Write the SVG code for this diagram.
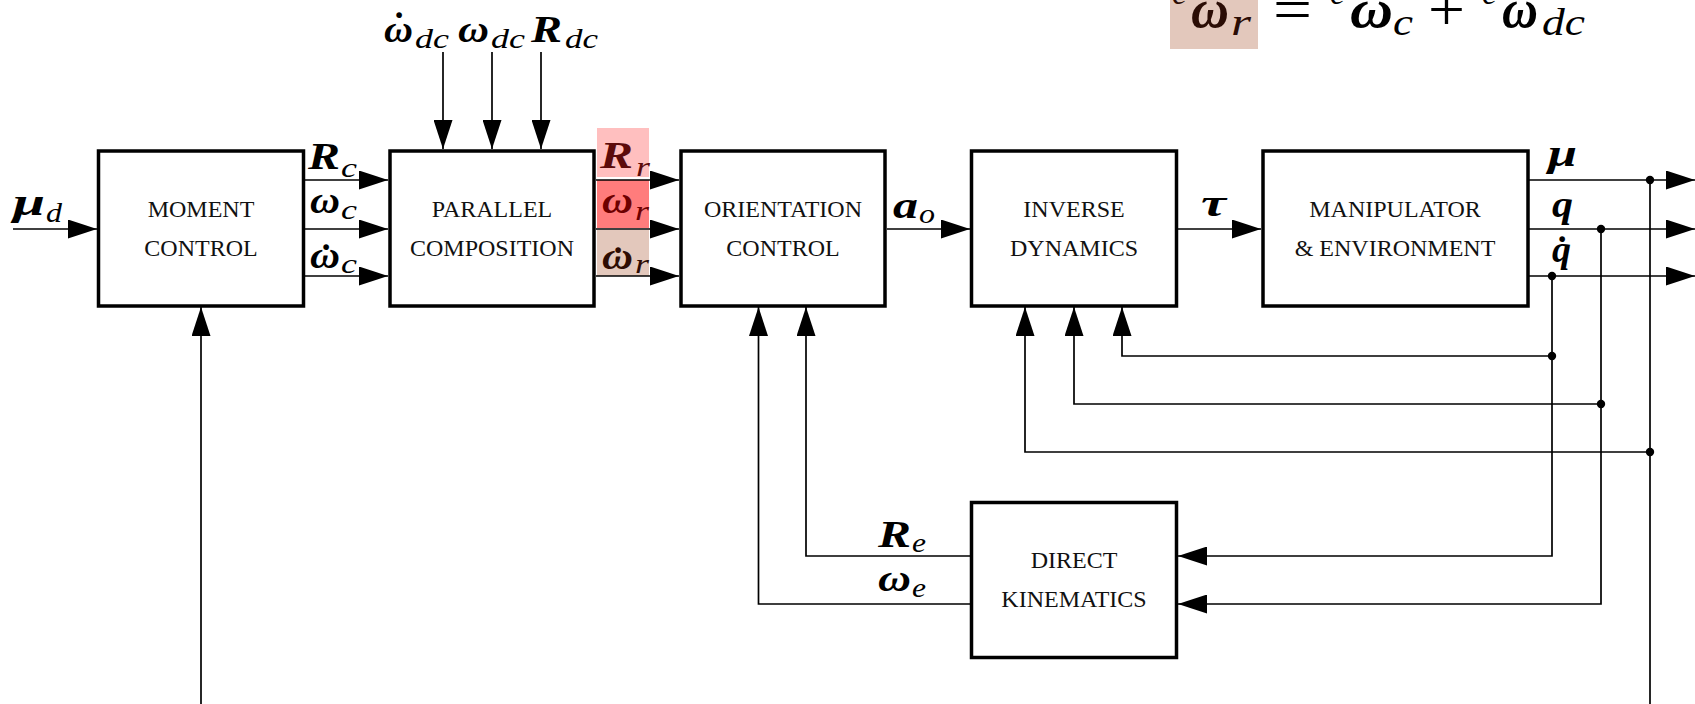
<svg xmlns="http://www.w3.org/2000/svg" width="1695" height="704" viewBox="0 0 1695 704">
<style>
.box{fill:#fff;stroke:#000;stroke-width:3.5}
.bt{font-family:"Liberation Serif",serif;font-size:24px;text-anchor:middle;fill:#111}
.m{font-family:"Liberation Serif",serif;font-style:italic;font-weight:bold;font-size:38px;fill:#000}
.s{font-family:"Liberation Serif",serif;font-style:italic;font-size:27px;fill:#000}
.d{font-family:"Liberation Serif",serif;font-weight:bold;font-size:38px;text-anchor:middle;fill:#000}
.w{fill:none;stroke:#000;stroke-width:1.7}
.a{marker-end:url(#ah)}
.f{font-family:"Liberation Serif",serif;font-size:62px;fill:#000}
</style>
<defs>
<marker id="ah" markerUnits="userSpaceOnUse" markerWidth="29" markerHeight="19" refX="29" refY="9.5" orient="auto">
<path d="M0,0 L29,9.5 L0,19 z" fill="#000"/>
</marker>
</defs>
<rect width="1695" height="704" fill="#fff"/>

<g id="highlights">
<rect x="597" y="128" width="52" height="49" fill="#FFBFBF"/>
<rect x="597" y="180" width="52" height="48" fill="#FF7C7C"/>
<rect x="597" y="230" width="52" height="46" fill="#E3C8BC"/>
<rect x="1170" y="0" width="88" height="49" fill="#E3C8BC"/>
</g>

<g id="connectors">
<path class="w a" d="M13,229 H97"/>
<path class="w a" d="M304,180 H388"/>
<path class="w a" d="M304,229 H388"/>
<path class="w a" d="M304,276 H388"/>
<path class="w a" d="M443,52 V149"/>
<path class="w a" d="M492,52 V149"/>
<path class="w a" d="M541,52 V149"/>
<path class="w a" d="M596,180 H679"/>
<path class="w a" d="M596,229 H679"/>
<path class="w a" d="M596,276 H679"/>
<path class="w a" d="M887,229 H970"/>
<path class="w a" d="M1178,229 H1261"/>
<path class="w a" d="M1529,180 H1695"/>
<path class="w a" d="M1529,229 H1695"/>
<path class="w a" d="M1529,276 H1695"/>
<path class="w a" d="M1552,276 V556 H1178"/>
<path class="w a" d="M1601,229 V604 H1178"/>
<path class="w" d="M1650,180 V704"/>
<path class="w a" d="M1552,356 H1122 V307"/>
<path class="w a" d="M1601,404 H1074 V307"/>
<path class="w a" d="M1650,452 H1025 V307"/>
<path class="w a" d="M970,556 H806 V307"/>
<path class="w a" d="M970,604 H758.5 V307"/>
<path class="w a" d="M201,704 V307"/>
<circle cx="1650" cy="180" r="4.2"/>
<circle cx="1601" cy="229" r="4.2"/>
<circle cx="1552" cy="276" r="4.2"/>
<circle cx="1552" cy="356" r="4.2"/>
<circle cx="1601" cy="404" r="4.2"/>
<circle cx="1650" cy="452" r="4.2"/>
</g>

<g id="moment-control">
<rect class="box" x="98.5" y="151" width="205" height="155"/>
<text class="bt" x="201" y="217">MOMENT</text>
<text class="bt" x="201" y="256">CONTROL</text>
</g>
<g id="parallel-composition">
<rect class="box" x="390" y="151" width="204" height="155"/>
<text class="bt" x="492" y="217">PARALLEL</text>
<text class="bt" x="492" y="256">COMPOSITION</text>
</g>
<g id="orientation-control">
<rect class="box" x="681" y="151" width="204" height="155"/>
<text class="bt" x="783" y="217">ORIENTATION</text>
<text class="bt" x="783" y="256">CONTROL</text>
</g>
<g id="inverse-dynamics">
<rect class="box" x="971.5" y="151" width="205" height="155"/>
<text class="bt" x="1074" y="217">INVERSE</text>
<text class="bt" x="1074" y="256">DYNAMICS</text>
</g>
<g id="manipulator-environment">
<rect class="box" x="1263" y="151" width="265" height="155"/>
<text class="bt" x="1395" y="217">MANIPULATOR</text>
<text class="bt" x="1395" y="256">&amp; ENVIRONMENT</text>
</g>
<g id="direct-kinematics">
<rect class="box" x="971.5" y="502.5" width="205" height="155"/>
<text class="bt" x="1074" y="568">DIRECT</text>
<text class="bt" x="1074" y="607">KINEMATICS</text>
</g>

<g id="labels">
<text class="m" x="13" y="215" textLength="32" lengthAdjust="spacingAndGlyphs">μ</text><text class="s" x="46" y="222" textLength="16" lengthAdjust="spacingAndGlyphs">d</text>
<text class="m" x="308" y="169" textLength="32" lengthAdjust="spacingAndGlyphs">R</text><text class="s" x="341" y="177" textLength="16" lengthAdjust="spacingAndGlyphs">c</text>
<text class="m" x="310" y="213" textLength="30" lengthAdjust="spacingAndGlyphs">ω</text><text class="s" x="341" y="219" textLength="16" lengthAdjust="spacingAndGlyphs">c</text>
<text class="m" x="310" y="268" textLength="30" lengthAdjust="spacingAndGlyphs">ω</text><text class="d" x="326" y="271">˙</text><text class="s" x="341" y="273" textLength="16" lengthAdjust="spacingAndGlyphs">c</text>
<text class="m" x="384" y="42" textLength="29" lengthAdjust="spacingAndGlyphs">ω</text><text class="d" x="399" y="39">˙</text><text class="s" x="415" y="48" textLength="34" lengthAdjust="spacingAndGlyphs">dc</text>
<text class="m" x="458" y="42" textLength="31" lengthAdjust="spacingAndGlyphs">ω</text><text class="s" x="491" y="48" textLength="34" lengthAdjust="spacingAndGlyphs">dc</text>
<text class="m" x="531" y="42" textLength="31" lengthAdjust="spacingAndGlyphs">R</text><text class="s" x="565" y="48" textLength="33" lengthAdjust="spacingAndGlyphs">dc</text>
<text class="m" x="600" y="168" style="fill:#5c0b0b" textLength="33" lengthAdjust="spacingAndGlyphs">R</text><text class="s" x="636" y="176" style="fill:#5c0b0b" textLength="14" lengthAdjust="spacingAndGlyphs">r</text>
<text class="m" x="602" y="213" style="fill:#6e0000" textLength="31" lengthAdjust="spacingAndGlyphs">ω</text><text class="s" x="635" y="220" style="fill:#6e0000" textLength="14" lengthAdjust="spacingAndGlyphs">r</text>
<text class="m" x="602" y="269" style="fill:#2e0c03" textLength="31" lengthAdjust="spacingAndGlyphs">ω</text><text class="d" x="618" y="274" style="fill:#2e0c03">˙</text><text class="s" x="635" y="273" style="fill:#2e0c03" textLength="14" lengthAdjust="spacingAndGlyphs">r</text>
<text class="m" x="893" y="218" textLength="25" lengthAdjust="spacingAndGlyphs">a</text><text class="s" x="919" y="223" textLength="16" lengthAdjust="spacingAndGlyphs">o</text>
<text class="m" x="1201" y="216" textLength="25" lengthAdjust="spacingAndGlyphs">τ</text>
<text class="m" x="1548" y="166" textLength="29" lengthAdjust="spacingAndGlyphs">μ</text>
<text class="m" x="1552" y="217" textLength="21" lengthAdjust="spacingAndGlyphs">q</text>
<text class="m" x="1552" y="262">q̇</text>
<text class="m" x="878" y="547" textLength="33" lengthAdjust="spacingAndGlyphs">R</text><text class="s" x="912" y="552" textLength="14" lengthAdjust="spacingAndGlyphs">e</text>
<text class="m" x="878" y="591" textLength="33" lengthAdjust="spacingAndGlyphs">ω</text><text class="s" x="912" y="597" textLength="14" lengthAdjust="spacingAndGlyphs">e</text>
</g>

<g id="formula">
<text class="s" x="1172" y="4" style="font-size:34px;fill:#2b0d05">c</text>
<text class="m" x="1191" y="27" style="font-size:54px;fill:#2b0d05" textLength="38" lengthAdjust="spacingAndGlyphs">ω</text>
<text class="s" x="1231" y="35" style="font-size:38px;fill:#2b0d05" textLength="20" lengthAdjust="spacingAndGlyphs">r</text>
<text class="f" x="1273" y="30" textLength="39" lengthAdjust="spacingAndGlyphs">=</text>
<text class="s" x="1330" y="4" style="font-size:34px">c</text>
<text class="m" x="1350" y="27" style="font-size:54px" textLength="43" lengthAdjust="spacingAndGlyphs">ω</text>
<text class="s" x="1393" y="35" style="font-size:38px" textLength="20" lengthAdjust="spacingAndGlyphs">c</text>
<text class="f" x="1428" y="30" textLength="37" lengthAdjust="spacingAndGlyphs">+</text>
<text class="s" x="1482" y="4" style="font-size:34px">c</text>
<text class="m" x="1502" y="27" style="font-size:54px" textLength="36" lengthAdjust="spacingAndGlyphs">ω</text>
<text class="s" x="1542" y="35" style="font-size:38px" textLength="43" lengthAdjust="spacingAndGlyphs">dc</text>
</g>
</svg>
